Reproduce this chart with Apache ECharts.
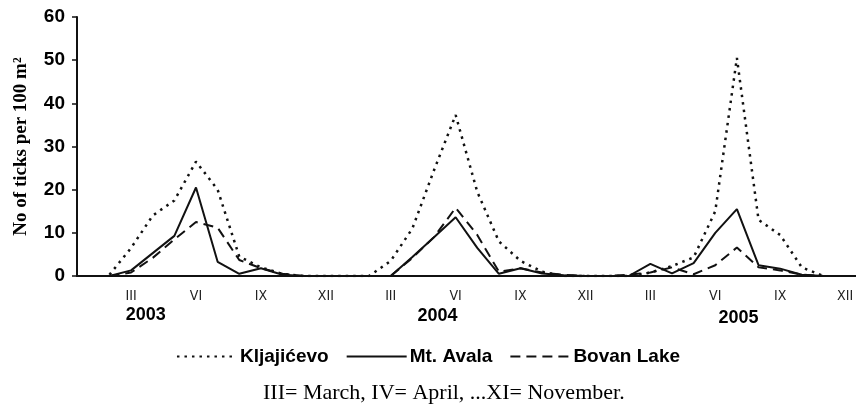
<!DOCTYPE html>
<html>
<head>
<meta charset="utf-8">
<script src="https://cdn.jsdelivr.net/npm/echarts@6/dist/echarts.min.js"></script>
<style>
  html, body { margin: 0; padding: 0; background: #fff; }
  #chart { width: 856px; height: 408px; }
</style>
</head>
<body>
<div id="chart"></div>
<script>
// months along the axis (Jan 2003 .. Dec 2005)
const years = ['2003', '2004', '2005'];
const romanMonths = ['I', 'II', 'III', 'IV', 'V', 'VI', 'VII', 'VIII', 'IX', 'X', 'XI', 'XII'];
const shownMonths = ['III', 'VI', 'IX', 'XII'];
// where the year captions sit (month index on the axis)
const yearLabelIndex = { 3: '2003', 16: '2004', 30: '2005' };

// No of ticks per 100 m2, one value per month
const kljajicevo = [
  null, 0.3, 6.5, 14, 17.5, 26.5, 20, 4.5, 2, 0.5, 0, 0,
  0, 0, 3.5, 11, 24.5, 37.3, 19.5, 8, 3.5, 1, 0, 0,
  0, 0, 0.8, 2.3, 4.3, 15, 50.5, 13, 9.5, 2, 0, null
];
const mtAvala = [
  null, 0, 1.3, 5.3, 9.3, 20.5, 3.3, 0.5, 1.8, 0.3, 0, 0,
  0, 0, 0, 4.4, 9, 13.6, 6.5, 0.5, 1.8, 0.6, 0.2, 0,
  0, 0, 2.8, 0.6, 3, 10, 15.5, 2.5, 1.7, 0.3, 0, null
];
const bovanLake = [
  null, 0, 0.8, 4.2, 8.5, 12.5, 11.2, 3.7, 1.8, 0.5, 0, 0,
  0, 0, 0, 4.2, 9, 15.8, 9.5, 1, 1.8, 0.8, 0.3, 0,
  0, 0.3, 0.8, 2, 0.4, 2.5, 6.6, 2, 1.3, 0.3, 0, null
];

const categories = [];
years.forEach(y => romanMonths.forEach(m => categories.push(m)));

const ink = '#111';
const chart = echarts.init(document.getElementById('chart'), null, { renderer: 'canvas' });

chart.setOption({
  backgroundColor: '#fff',
  animation: false,
  grid: { left: 77, right: -8, top: 17, bottom: 132 },
  title: {
    text: 'III= March, IV= April, ...XI= November.',
    left: 258,
    top: 377,
    textStyle: { fontFamily: 'Liberation Serif', fontSize: 22, fontWeight: 'normal', color: '#000' }
  },
  legend: {
    left: 'center',
    top: 342,
    itemWidth: 60,
    itemHeight: 14,
    itemGap: 17,
    itemStyle: { opacity: 0 },
    textStyle: { fontFamily: 'Liberation Sans', fontSize: 19, fontWeight: 'bold', color: '#000', padding: [0, 0, 0, -2] },
    data: ['Kljajićevo', 'Mt. Avala', 'Bovan Lake']
  },
  xAxis: [{
    type: 'category',
    data: categories,
    boundaryGap: true,
    axisLine: { lineStyle: { color: ink, width: 2 } },
    axisTick: { interval: 0, length: 5, lineStyle: { color: ink, width: 1.5 } },
    axisLabel: {
      interval: 0,
      margin: 13,
      fontFamily: 'Liberation Sans Narrow, DejaVu Sans Condensed, Liberation Sans',
      fontSize: 14,
      color: '#222',
      formatter: v => (shownMonths.indexOf(v) >= 0 ? v : '')
    },
    splitLine: { show: false }
  }, {
    type: 'category',
    data: categories,
    position: 'bottom',
    boundaryGap: true,
    axisLine: { show: false },
    axisTick: { show: false },
    axisLabel: {
      interval: 0,
      margin: 30,
      formatter: (v, i) => {
        const y = yearLabelIndex[i];
        return y ? '{y' + y + '|' + y + '}' : '';
      },
      rich: {
        y2003: { fontFamily: 'Liberation Sans', fontWeight: 'bold', fontSize: 18, lineHeight: 18, color: '#000', padding: [0, 14, 0, 0] },
        y2004: { fontFamily: 'Liberation Sans', fontWeight: 'bold', fontSize: 18, lineHeight: 18, color: '#000', padding: [3, 0, 0, 7] },
        y2005: { fontFamily: 'Liberation Sans', fontWeight: 'bold', fontSize: 18, lineHeight: 18, color: '#000', padding: [7, 0, 0, 3] }
      }
    },
    splitLine: { show: false }
  }],
  yAxis: {
    type: 'value',
    min: 0,
    max: 60,
    interval: 10,
    name: 'No of ticks per 100 m²',
    nameLocation: 'middle',
    nameGap: 46,
    nameTextStyle: { fontFamily: 'Liberation Serif', fontWeight: 'bold', fontSize: 19, color: '#000' },
    axisLine: { show: true, lineStyle: { color: ink, width: 2 } },
    axisTick: { show: true, length: 5, lineStyle: { color: ink, width: 1.5 } },
    axisLabel: { margin: 12, fontFamily: 'Liberation Sans', fontWeight: 'bold', fontSize: 19, color: '#000' },
    splitLine: { show: false }
  },
  series: [{
    name: 'Kljajićevo',
    type: 'line',
    data: kljajicevo,
    symbol: 'none',
    color: ink,
    lineStyle: { color: ink, width: 2.5, type: [2.5, 5] }
  }, {
    name: 'Mt. Avala',
    type: 'line',
    data: mtAvala,
    symbol: 'none',
    color: ink,
    lineStyle: { color: ink, width: 2 }
  }, {
    name: 'Bovan Lake',
    type: 'line',
    data: bovanLake,
    symbol: 'none',
    color: ink,
    lineStyle: { color: ink, width: 2, type: [10, 6] }
  }]
});
</script>
</body>
</html>
